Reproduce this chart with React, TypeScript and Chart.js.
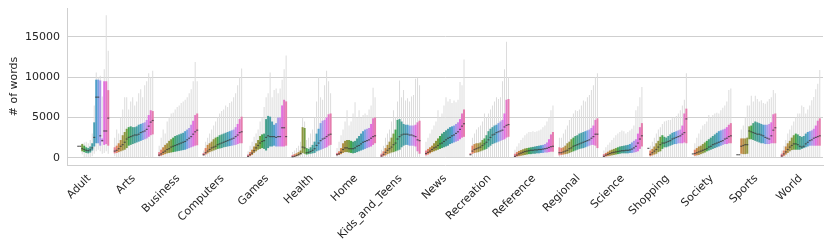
import React, { useEffect, useRef } from 'react';
import { Chart, registerables } from 'chart.js';

Chart.register(...registerables);

// ---------------- data ----------------
const CATEGORIES = [
  'Adult', 'Arts', 'Business', 'Computers', 'Games', 'Health', 'Home', 'Kids_and_Teens',
  'News', 'Recreation', 'Reference', 'Regional', 'Science', 'Shopping', 'Society', 'Sports', 'World',
];
const HUE_COUNT = 20;
const Y_TICKS = [0, 5000, 10000, 15000];
const Y_LABEL = '# of words';

// first quartile, one row per category, one column per hue level
const Q1: (number | null)[][] = [
  [null, null, null, null, 1500, 1500, 800, 700, 600, 550, 650, 900, 1400, 1800, 1800, 1500, 2000, 1600, 1700, 1500],
  [550, 600, 700, 800, 900, 1000, 1200, 1500, 1600, 1700, 1800, 1900, 2000, 2100, 2200, 2300, 2400, 2600, 2800, 2900],
  [200, 250, 350, 450, 550, 600, 650, 700, 750, 800, 850, 900, 950, 1000, 1100, 1200, 1300, 1400, 1500, 1550],
  [300, 400, 550, 700, 800, 900, 1000, 1100, 1150, 1200, 1300, 1350, 1400, 1450, 1500, 1550, 1600, 1700, 1800, 1800],
  [100, 200, 350, 600, 800, 1000, 1100, 1200, 1100, 900, 1200, 1400, 1400, 1500, 1400, 1400, 1400, 1400, 1400, 1500],
  [100, 150, 200, 300, 400, 600, 500, 400, 450, 500, 550, 600, 800, 900, 1000, 1100, 1200, 1300, 1500, 1600],
  [300, 350, 450, 600, 700, 700, 650, 600, 550, 600, 700, 800, 900, 1000, 1100, 1200, 1300, 1400, 1600, 1800],
  [100, 200, 300, 450, 550, 650, 700, 800, 900, 1000, 1300, 1500, 1600, 1600, 1500, 1500, 1500, 1400, 800, 500],
  [300, 400, 550, 700, 800, 900, 1000, 1100, 1200, 1300, 1400, 1500, 1700, 1800, 1900, 2000, 2100, 2300, 2500, 2600],
  [400, 500, 600, 650, 700, 800, 900, 1000, 1100, 1300, 1500, 1700, 1800, 1900, 2000, 2100, 2200, 2300, 2500, 2600],
  [100, 150, 200, 250, 300, 350, 400, 450, 450, 500, 500, 550, 550, 600, 600, 650, 650, 700, 750, 750],
  [300, 350, 400, 450, 500, 600, 700, 800, 900, 1000, 1100, 1150, 1200, 1300, 1400, 1500, 1600, 1600, 1500, 1200],
  [100, 150, 200, 250, 300, 350, 400, 450, 500, 550, 550, 550, 550, 600, 600, 650, 700, 800, 1100, 1400],
  [1240, 200, 300, 400, 500, 700, 800, 1100, 1300, 1300, 1400, 1500, 1600, 1700, 1700, 1800, 1800, 1800, 1900, 1800],
  [550, 250, 300, 350, 450, 550, 650, 800, 900, 1000, 1100, 1200, 1300, 1400, 1500, 1600, 1700, 1700, 1800, 1800],
  [450, 450, 500, 450, 450, 500, 2300, 2300, 2200, 2100, 2000, 1900, 1800, 1800, 1700, 1700, 1700, 1800, 1800, 1800],
  [100, 200, 400, 600, 800, 950, 1000, 1000, 1000, 1000, 1100, 1200, 1300, 1400, 1500, 1500, 1500, 1500, 1500, 1500],
];

// medians
const MEDIAN: (number | null)[][] = [
  [null, null, null, null, 1500, 1500, 1200, 1100, 1000, 950, 1050, 1300, 2600, 7600, 7600, 2800, 2200, 3400, 3400, 5000],
  [900, 1000, 1200, 1500, 1700, 2000, 2400, 2600, 2700, 2800, 2900, 2900, 3000, 3200, 3300, 3400, 3600, 4000, 4500, 4700],
  [400, 550, 750, 900, 1100, 1200, 1400, 1500, 1600, 1700, 1800, 1900, 2000, 2100, 2300, 2500, 2700, 3000, 3300, 3500],
  [450, 700, 900, 1100, 1300, 1400, 1500, 1700, 1800, 1900, 2000, 2100, 2200, 2300, 2400, 2500, 2700, 2900, 3200, 3300],
  [250, 450, 650, 950, 1300, 1600, 1900, 2100, 2200, 2600, 2800, 2700, 2700, 2700, 2600, 2700, 2700, 3800, 3800, 2700],
  [200, 250, 350, 450, 600, 1400, 1300, 700, 750, 850, 1000, 1200, 1600, 1900, 2200, 2400, 2500, 2700, 2900, 3000],
  [450, 550, 750, 1100, 1300, 1300, 1200, 1200, 1200, 1300, 1500, 1600, 1800, 2000, 2100, 2200, 2300, 2500, 2700, 2800],
  [300, 500, 750, 1000, 1200, 1400, 1700, 1900, 2400, 2700, 2900, 3000, 3000, 3000, 2900, 2900, 2800, 2700, 2300, 2200],
  [600, 750, 900, 1100, 1300, 1400, 1600, 1800, 1900, 2100, 2300, 2500, 2600, 2800, 2900, 3100, 3300, 3600, 4000, 4300],
  [450, 900, 1100, 1200, 1300, 1400, 1600, 1800, 2000, 2300, 2600, 2900, 3000, 3200, 3300, 3400, 3500, 3900, 4100, 4200],
  [250, 400, 550, 650, 750, 850, 900, 950, 1000, 1000, 1050, 1050, 1100, 1100, 1150, 1200, 1250, 1350, 1450, 1500],
  [700, 700, 800, 900, 1000, 1200, 1300, 1500, 1600, 1700, 1800, 1900, 2000, 2100, 2200, 2300, 2500, 2700, 3000, 3000],
  [250, 400, 500, 600, 700, 750, 800, 850, 900, 950, 950, 1000, 1000, 1050, 1150, 1300, 1500, 1900, 2400, 2800],
  [1240, 500, 700, 900, 1100, 1400, 1700, 1900, 1900, 2000, 2100, 2200, 2400, 2500, 2600, 2700, 2800, 3000, 3200, 4900],
  [550, 600, 700, 800, 900, 1000, 1100, 1200, 1400, 1500, 1700, 1800, 1900, 2000, 2100, 2200, 2400, 2500, 2700, 2800],
  [450, 450, 1500, 1600, 1700, 1700, 3400, 3300, 3200, 3100, 3000, 3000, 2900, 2800, 2600, 2500, 2400, 2800, 3500, 3800],
  [300, 550, 800, 1100, 1400, 1600, 1800, 1800, 1700, 1500, 1400, 1500, 1800, 2000, 2200, 2300, 2500, 2600, 2700, 2800],
];

// third quartile
const Q3: (number | null)[][] = [
  [null, null, null, null, 1500, 1500, 1700, 1500, 1300, 1200, 1400, 1800, 4400, 9700, 9700, 9600, 2400, 9500, 9500, 8400],
  [1300, 1500, 1800, 2200, 2800, 3200, 3600, 3800, 3900, 3800, 3800, 3900, 4100, 4200, 4300, 4400, 4700, 5300, 5900, 5800],
  [700, 1000, 1300, 1600, 1800, 2100, 2300, 2500, 2700, 2800, 2900, 3000, 3100, 3300, 3500, 3700, 4100, 4600, 5300, 5500],
  [600, 1200, 1600, 1800, 2000, 2300, 2500, 2600, 2800, 2900, 3000, 3100, 3200, 3300, 3400, 3500, 3800, 4200, 4800, 5100],
  [400, 700, 1000, 1400, 1800, 2200, 2700, 2900, 3000, 4800, 5200, 5100, 4500, 4100, 4300, 5000, 5000, 6500, 7200, 7000],
  [350, 450, 550, 700, 900, 3800, 3700, 1200, 1100, 1300, 1600, 2000, 3000, 3600, 4300, 4600, 4700, 5000, 5400, 5500],
  [600, 800, 1200, 1800, 2100, 2200, 2200, 2100, 2000, 2100, 2400, 2700, 3000, 3300, 3500, 3600, 3700, 4200, 4900, 5000],
  [500, 800, 1200, 1600, 2000, 2500, 3000, 3500, 4700, 4800, 4500, 4200, 4100, 4100, 4000, 4000, 4000, 4100, 4400, 4600],
  [900, 1100, 1300, 1500, 1800, 2100, 2400, 2700, 3000, 3200, 3400, 3600, 3800, 3900, 4000, 4200, 4400, 4800, 5500, 6000],
  [550, 1500, 1700, 1800, 1800, 1900, 2200, 2400, 2800, 3300, 3600, 3800, 4000, 4100, 4300, 4500, 4700, 5500, 7200, 7300],
  [500, 700, 850, 950, 1050, 1150, 1200, 1250, 1300, 1350, 1400, 1450, 1500, 1550, 1600, 1700, 1900, 2300, 2900, 3200],
  [1300, 1200, 1300, 1500, 1800, 2000, 2300, 2500, 2700, 2800, 3000, 3100, 3200, 3300, 3400, 3500, 3700, 4000, 4700, 4900],
  [450, 600, 750, 900, 1000, 1100, 1200, 1300, 1400, 1450, 1500, 1550, 1600, 1700, 1900, 2100, 2300, 3000, 3800, 4300],
  [1240, 900, 1100, 1400, 1800, 2100, 2600, 2800, 2600, 2500, 2700, 2900, 3100, 3200, 3300, 3400, 3500, 4000, 5500, 6100],
  [550, 1000, 1200, 1400, 1500, 1700, 1900, 2100, 2300, 2500, 2700, 2900, 3100, 3300, 3400, 3500, 3600, 3800, 4100, 4300],
  [450, 450, 2400, 2400, 2400, 2500, 3900, 4000, 4300, 4500, 4400, 4300, 4200, 4100, 4100, 4100, 4200, 4400, 5400, 5500],
  [500, 900, 1400, 1800, 2100, 2500, 2800, 3000, 2900, 2700, 2600, 2700, 3000, 3200, 3300, 3400, 3600, 4000, 4600, 4900],
];

// lower whisker ends
const WHISKER_LO: (number | null)[][] = [
  [null, null, null, null, 1500, 1500, 400, 100, 0, 0, 100, 200, 500, 800, 1000, 800, 500, 600, 800, 500],
  [200, 100, 100, 0, 0, 100, 0, 0, 100, 100, 0, 100, 100, 0, 100, 100, 200, 100, 0, 100],
  [100, 50, 0, 0, 0, 0, 0, 0, 0, 0, 0, 0, 0, 0, 0, 0, 0, 0, 0, 0],
  [200, 100, 50, 0, 0, 0, 0, 0, 0, 0, 0, 0, 0, 0, 0, 0, 0, 0, 0, 0],
  [0, 0, 0, 0, 0, 0, 0, 0, 0, 0, 0, 0, 0, 0, 0, 0, 0, 0, 0, 0],
  [0, 0, 0, 0, 0, 0, 0, 0, 0, 0, 0, 0, 0, 0, 0, 0, 0, 0, 0, 0],
  [100, 50, 0, 0, 0, 0, 0, 0, 0, 0, 0, 0, 0, 0, 0, 0, 0, 0, 0, 0],
  [0, 0, 0, 0, 0, 0, 0, 0, 0, 0, 0, 0, 0, 0, 0, 0, 0, 0, 0, 0],
  [0, 0, 0, 0, 0, 0, 0, 0, 0, 0, 0, 0, 0, 0, 0, 0, 0, 0, 0, 0],
  [350, 0, 0, 0, 0, 0, 0, 0, 0, 0, 0, 0, 0, 0, 0, 0, 0, 0, 0, 0],
  [0, 0, 0, 0, 0, 0, 0, 0, 0, 0, 0, 0, 0, 0, 0, 0, 0, 0, 0, 0],
  [0, 0, 0, 0, 0, 0, 0, 0, 0, 0, 0, 0, 0, 0, 0, 0, 0, 0, 0, 0],
  [0, 0, 0, 0, 0, 0, 0, 0, 0, 0, 0, 0, 0, 0, 0, 0, 0, 0, 0, 0],
  [1240, 0, 0, 0, 0, 0, 0, 0, 0, 0, 0, 0, 0, 0, 0, 0, 0, 0, 0, 0],
  [550, 0, 0, 0, 0, 0, 0, 0, 0, 0, 0, 0, 0, 0, 0, 0, 0, 0, 0, 0],
  [450, 450, 100, 100, 100, 100, 0, 0, 0, 0, 0, 0, 0, 0, 0, 0, 0, 0, 0, 0],
  [0, 0, 0, 0, 0, 0, 0, 0, 0, 0, 0, 0, 0, 0, 0, 0, 0, 0, 0, 0],
];

// upper whisker ends
const WHISKER_HI: (number | null)[][] = [
  [null, null, null, null, 1500, 1500, 1800, 1900, 2000, 1800, 2200, 3000, 6500, 10600, 10000, 10200, 7600, 11000, 17700, 13300],
  [2500, 3500, 3000, 5000, 6000, 7500, 7500, 6000, 7000, 7500, 6500, 7000, 8000, 8500, 7500, 9000, 9500, 10500, 10000, 10800],
  [1500, 2500, 3500, 3000, 4500, 5000, 5500, 5600, 6000, 6300, 6500, 6800, 7000, 7200, 7500, 8000, 8500, 9500, 11900, 9500],
  [900, 2000, 2500, 3000, 3500, 4000, 4500, 5000, 5500, 5800, 6000, 6500, 6300, 6800, 7000, 7500, 8000, 9000, 10000, 11100],
  [800, 1500, 2000, 2600, 3000, 3500, 4500, 5000, 6300, 7500, 8000, 10600, 7500, 8400, 8600, 8000, 8600, 9700, 11000, 12700],
  [700, 900, 1200, 1500, 2000, 5000, 4500, 2200, 2500, 3000, 3500, 5000, 7000, 10000, 7500, 7200, 9000, 10800, 9500, 8000],
  [1200, 2000, 2800, 3500, 4500, 5900, 4000, 4500, 5500, 6900, 5000, 5900, 5000, 5300, 5500, 5300, 6000, 6500, 8700, 7500],
  [1000, 1500, 2500, 3000, 3500, 4500, 5900, 5000, 7000, 9600, 7500, 8400, 7100, 7400, 7000, 7600, 7800, 9800, 9950, 9000],
  [2000, 2500, 3000, 3500, 4000, 4500, 5900, 5000, 5500, 6500, 7500, 7000, 7300, 6800, 7100, 6900, 7200, 9400, 9000, 12200],
  [600, 2500, 3000, 3500, 3800, 4000, 4500, 5500, 5000, 5500, 6000, 6500, 7000, 7500, 7300, 7500, 9500, 11000, 14400, 10000],
  [1000, 1400, 1800, 2200, 2500, 2800, 3000, 3200, 3200, 3300, 3200, 3300, 3400, 3500, 3800, 4000, 4500, 5000, 5900, 6500],
  [2500, 2500, 3000, 3500, 4000, 4700, 5000, 5500, 5900, 5800, 6000, 6500, 7100, 7000, 7500, 7800, 8400, 9000, 10000, 10500],
  [900, 1300, 1600, 1900, 2200, 2500, 2800, 3000, 3200, 3400, 3300, 3000, 3200, 3400, 3600, 4000, 5900, 6400, 7500, 8800],
  [1240, 1500, 2000, 2500, 3000, 3500, 3800, 4200, 4500, 4600, 4700, 4700, 4900, 5000, 5200, 5500, 5900, 6500, 7200, 10500],
  [550, 1800, 2500, 3000, 3500, 4000, 4200, 4500, 5300, 5000, 5300, 5500, 5600, 5500, 5900, 6200, 6500, 7000, 8400, 8600],
  [450, 450, 3500, 4000, 5000, 6500, 6500, 7700, 7000, 7700, 7300, 7000, 7150, 6800, 6700, 7000, 7300, 7500, 8400, 8000],
  [900, 1500, 2200, 3000, 3500, 4000, 4500, 5000, 5500, 5500, 6500, 6300, 5500, 6000, 6500, 7150, 7560, 8500, 9200, 10900],
];

// ---------------- colours (seaborn husl palette, desaturated like boxplot) ----------------
const M = [
  [3.240969941904521, -1.537383177570093, -0.498610760293],
  [-0.96924363628087, 1.87596750150772, 0.041555057407175],
  [0.055630079696993, -0.20397695888897, 1.056971514242878],
];
const REF_U = 0.19783000664283;
const REF_V = 0.46831999493879;
const KAPPA = 903.2962962;
const EPS = 0.0088564516;

function bounds(L: number): [number, number][] {
  const out: [number, number][] = [];
  const sub1 = Math.pow(L + 16, 3) / 1560896;
  const sub2 = sub1 > EPS ? sub1 : L / KAPPA;
  for (const [m1, m2, m3] of M) {
    for (const t of [0, 1]) {
      const top1 = (284517 * m1 - 94839 * m3) * sub2;
      const top2 = (838422 * m3 + 769860 * m2 + 731718 * m1) * L * sub2 - 769860 * t * L;
      const bottom = (632260 * m3 - 126452 * m2) * sub2 + 126452 * t;
      out.push([top1 / bottom, top2 / bottom]);
    }
  }
  return out;
}
function maxChroma(L: number, H: number) {
  const hr = (H / 180) * Math.PI;
  let min = Infinity;
  for (const [s, i] of bounds(L)) {
    const len = i / (Math.sin(hr) - s * Math.cos(hr));
    if (len >= 0) min = Math.min(min, len);
  }
  return min;
}
function huslToRgb(H: number, S: number, L: number): number[] {
  const C = (maxChroma(L, H) / 100) * S;
  const hr = (H / 180) * Math.PI;
  const U = Math.cos(hr) * C;
  const V = Math.sin(hr) * C;
  const vu = U / (13 * L) + REF_U;
  const vv = V / (13 * L) + REF_V;
  const Y = L <= 8 ? L / KAPPA : Math.pow((L + 16) / 116, 3);
  const X = 0 - (9 * Y * vu) / ((vu - 4) * vv - vu * vv);
  const Z = (9 * Y - 15 * vv * Y - vv * X) / (3 * vv);
  return M.map(([a, b, c]) => {
    const lin = a * X + b * Y + c * Z;
    const v = lin <= 0.0031308 ? 12.92 * lin : 1.055 * Math.pow(lin, 1 / 2.4) - 0.055;
    return Math.min(1, Math.max(0, v));
  });
}
function desaturate(rgb: number[], p: number): number[] {
  const [r, g, b] = rgb;
  const mx = Math.max(r, g, b);
  const mn = Math.min(r, g, b);
  const l = (mx + mn) / 2;
  if (mx === mn) return rgb;
  const d = mx - mn;
  const s = l <= 0.5 ? d / (mx + mn) : d / (2 - mx - mn);
  let h: number;
  if (mx === r) h = (g - b) / d;
  else if (mx === g) h = (b - r) / d + 2;
  else h = (r - g) / d + 4;
  h /= 6;
  if (h < 0) h += 1;
  const s2 = s * p;
  const q = l < 0.5 ? l * (1 + s2) : l + s2 - l * s2;
  const pp = 2 * l - q;
  const f = (t: number) => {
    if (t < 0) t += 1;
    if (t > 1) t -= 1;
    if (t < 1 / 6) return pp + (q - pp) * 6 * t;
    if (t < 1 / 2) return q;
    if (t < 2 / 3) return pp + (q - pp) * (2 / 3 - t) * 6;
    return pp;
  };
  return [f(h + 1 / 3), f(h), f(h - 1 / 3)];
}
function palette(n: number): string[] {
  const out: string[] = [];
  for (let j = 0; j < n; j++) {
    const h = ((j / n + 0.01) % 1) * 359;
    const rgb = desaturate(huslToRgb(h, 0.9 * 99, 0.65 * 99), 0.75);
    out.push(`rgb(${rgb.map((v) => Math.round(v * 255)).join(',')})`);
  }
  return out;
}

// ---------------- chart ----------------
const FONT = { family: "'DejaVu Sans', sans-serif", size: 11 };
const TEXT = '#262626';
const GRID = '#cfcfcf';
const CAT_PCT = 0.9;

export default function App() {
  const ref = useRef<HTMLCanvasElement | null>(null);

  useEffect(() => {
    document.body.style.margin = '0';
    const canvas = ref.current;
    if (!canvas) return;
    const colors = palette(HUE_COUNT);
    const pair = (a: (number | null)[][], b: (number | null)[][], j: number) =>
      CATEGORIES.map((_, c) => (a[c][j] == null || b[c][j] == null ? null : [a[c][j] as number, b[c][j] as number]));

    const datasets: any[] = [];
    for (let j = 0; j < HUE_COUNT; j++) {
      datasets.push({
        label: `median ${j}`,
        data: pair(MEDIAN, MEDIAN, j),
        stack: 'h' + j,
        order: 1,
        backgroundColor: 'rgba(60,60,60,0.8)',
        borderWidth: 0,
        minBarLength: 1.2,
        barPercentage: 1,
        categoryPercentage: CAT_PCT,
      });
    }
    for (let j = 0; j < HUE_COUNT; j++) {
      datasets.push({
        label: `box ${j}`,
        data: pair(Q1, Q3, j),
        stack: 'h' + j,
        order: 2,
        backgroundColor: colors[j],
        borderWidth: 0,
        barPercentage: 1,
        categoryPercentage: CAT_PCT,
      });
    }
    for (let j = 0; j < HUE_COUNT; j++) {
      datasets.push({
        label: `whisker ${j}`,
        data: pair(WHISKER_LO, WHISKER_HI, j),
        stack: 'h' + j,
        order: 3,
        backgroundColor: '#dcdcdc',
        borderWidth: 0,
        barPercentage: 0.5,
        categoryPercentage: CAT_PCT,
      });
    }

    const chart = new Chart(canvas, {
      type: 'bar',
      data: { labels: CATEGORIES, datasets },
      options: {
        animation: false,
        responsive: false,
        maintainAspectRatio: false,
        devicePixelRatio: 1,
        layout: { padding: { left: 8, right: 8, top: 8, bottom: 0 } },
        plugins: { legend: { display: false }, tooltip: { enabled: false } },
        scales: {
          x: {
            type: 'category',
            offset: true,
            grid: { display: false, drawTicks: false },
            border: { display: true, color: GRID, width: 1 },
            ticks: {
              autoSkip: false,
              minRotation: 45,
              maxRotation: 45,
              padding: 7,
              font: FONT,
              color: TEXT,
            },
            afterFit: (s: any) => {
              s.height = 86;
            },
          },
          y: {
            type: 'linear',
            min: -900,
            max: 18600,
            stacked: false,
            grid: { color: GRID, lineWidth: 1, drawTicks: false },
            border: { display: true, color: GRID, width: 1 },
            ticks: {
              padding: 7,
              font: FONT,
              color: TEXT,
              callback: (v: any) => String(v),
            },
            afterBuildTicks: (s: any) => {
              s.ticks = Y_TICKS.map((v) => ({ value: v }));
            },
            title: { display: true, text: Y_LABEL, font: FONT, color: TEXT, padding: { top: 0, bottom: 0 } },
            afterFit: (s: any) => {
              s.width = 59;
              s.paddingTop = 0;
              s.paddingBottom = 0;
            },
          },
        },
      } as any,
    });
    return () => chart.destroy();
  }, []);

  return <canvas ref={ref} width={831} height={251} style={{ display: 'block', width: 831, height: 251 }} />;
}
